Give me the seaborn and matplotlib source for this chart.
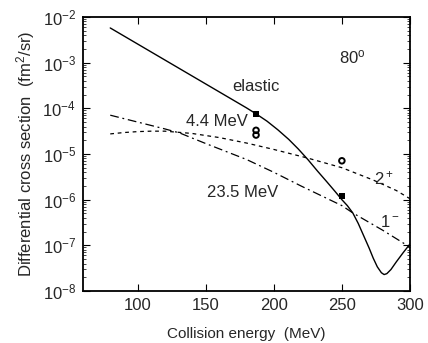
import numpy as np
import pandas as pd
import matplotlib
matplotlib.use("Agg")
import matplotlib.pyplot as plt
from matplotlib.ticker import LogLocator, LogFormatterSciNotation, NullFormatter, FixedLocator
import seaborn as sns

# ---- data ----
elastic_E = [80, 100, 120, 140, 160, 180, 187, 195, 203, 211, 218, 225, 232, 239, 245,
             250, 254, 258, 262, 266, 270, 273, 276, 279, 281, 283, 286, 290, 295, 300]
elastic_log = [-2.24, -2.59, -2.94, -3.29, -3.64, -3.99, -4.12, -4.28, -4.47, -4.68, -4.89,
               -5.12, -5.37, -5.61, -5.82, -6.00, -6.13, -6.29, -6.52, -6.79, -7.06, -7.28,
               -7.47, -7.60, -7.64, -7.62, -7.53, -7.36, -7.16, -6.97]

e44_E = [80, 90, 100, 110, 120, 140, 160, 180, 200, 225, 250, 273, 290, 300]
e44_log = [-4.56, -4.53, -4.51, -4.50, -4.50, -4.55, -4.64, -4.76, -4.90, -5.09, -5.30,
           -5.57, -5.80, -5.98]

e235_E = [80, 100, 120, 131, 150, 180, 200, 220, 250, 258, 280, 300]
e235_log = [-4.15, -4.30, -4.45, -4.54, -4.77, -5.12, -5.40, -5.70, -6.13, -6.29, -6.67, -7.04]

sq_E = [187, 250]
sq_val = [7.6e-5, 1.2e-6]
circ_E = [187, 187, 250]
circ_val = [3.3e-5, 2.6e-5, 7.1e-6]

x_ticks = [100, 150, 200, 250, 300]
y_ticks = [1e-8, 1e-7, 1e-6, 1e-5, 1e-4, 1e-3, 1e-2]

# ---- style ----
sns.set_style("ticks")
plt.rcParams['font.family'] = ['Liberation Sans', 'DejaVu Sans']
plt.rcParams['mathtext.fontset'] = 'custom'
plt.rcParams['mathtext.rm'] = 'Liberation Sans'
plt.rcParams['mathtext.it'] = 'Liberation Sans:italic'
plt.rcParams['mathtext.bf'] = 'Liberation Sans:bold'

fig = plt.figure(figsize=(4.28, 3.43), dpi=100)
ax = fig.add_axes([83/428, 1-291/343, (410-83)/428, (291-17)/343])

df_el = pd.DataFrame({"E": elastic_E, "y": 10**np.array(elastic_log)})
df_44 = pd.DataFrame({"E": e44_E, "y": 10**np.array(e44_log)})
df_235 = pd.DataFrame({"E": e235_E, "y": 10**np.array(e235_log)})

sns.lineplot(data=df_el, x="E", y="y", ax=ax, color="black", lw=1.0, sort=False)
sns.lineplot(data=df_44, x="E", y="y", ax=ax, color="black", lw=0.9, sort=False,
             linestyle=(0, (3, 3)))
sns.lineplot(data=df_235, x="E", y="y", ax=ax, color="black", lw=0.9, sort=False,
             linestyle=(0, (7, 3, 1.5, 3)))

sns.scatterplot(x=sq_E, y=sq_val, ax=ax, marker="s", s=24, color="black",
                edgecolor="black", linewidth=0, zorder=5)
sns.scatterplot(x=circ_E, y=circ_val, ax=ax, marker="o", s=16, facecolor="none",
                edgecolor="black", linewidth=1.4, zorder=5)

ax.set_yscale("log")
ax.set_xlim(60, 300)
ax.set_ylim(1e-8, 1e-2)

ax.xaxis.set_major_locator(FixedLocator(x_ticks))
ax.yaxis.set_major_locator(FixedLocator(y_ticks))
minor = [m * t for t in y_ticks[:-1] for m in range(2, 10)]
ax.yaxis.set_minor_locator(FixedLocator(minor))
ax.yaxis.set_major_formatter(LogFormatterSciNotation())
ax.yaxis.set_minor_formatter(NullFormatter())
ax.xaxis.get_offset_text().set_visible(False)
ax.yaxis.get_offset_text().set_visible(False)

ax.tick_params(axis="both", which="major", direction="in", length=5, width=0.8,
               top=True, right=True, labelsize=12, pad=5, color="black")
ax.tick_params(axis="y", which="minor", direction="in", length=2.5, width=0.6,
               left=True, right=True)
for s in ax.spines.values():
    s.set_linewidth(1.3)
    s.set_color("black")

ax.set_xlabel("Collision energy  (MeV)", fontsize=11, labelpad=10)
ax.set_ylabel("Differential cross section  (fm$^2$/sr)", fontsize=12, labelpad=4)


def ypx(py):
    return 10 ** (-2 - (py - 17) / 45.67)


def xpx(px):
    return 60 + (px - 83) * 50 / 68


ax.text(xpx(256), ypx(87), "elastic", fontsize=12, ha="center", va="center")
ax.text(xpx(217), ypx(122), "4.4 MeV", fontsize=12, ha="center", va="center")
ax.text(xpx(242), ypx(193), "23.5 MeV", fontsize=12, ha="center", va="center")
ax.text(xpx(352), ypx(57), "80$^\\mathrm{o}$", fontsize=12, ha="center", va="center")
ax.text(xpx(383), ypx(178), "2$^+$", fontsize=12, ha="center", va="center")
ax.text(xpx(389), ypx(222), "1$^-$", fontsize=12, ha="center", va="center")

fig.savefig("out.png", dpi=100)
